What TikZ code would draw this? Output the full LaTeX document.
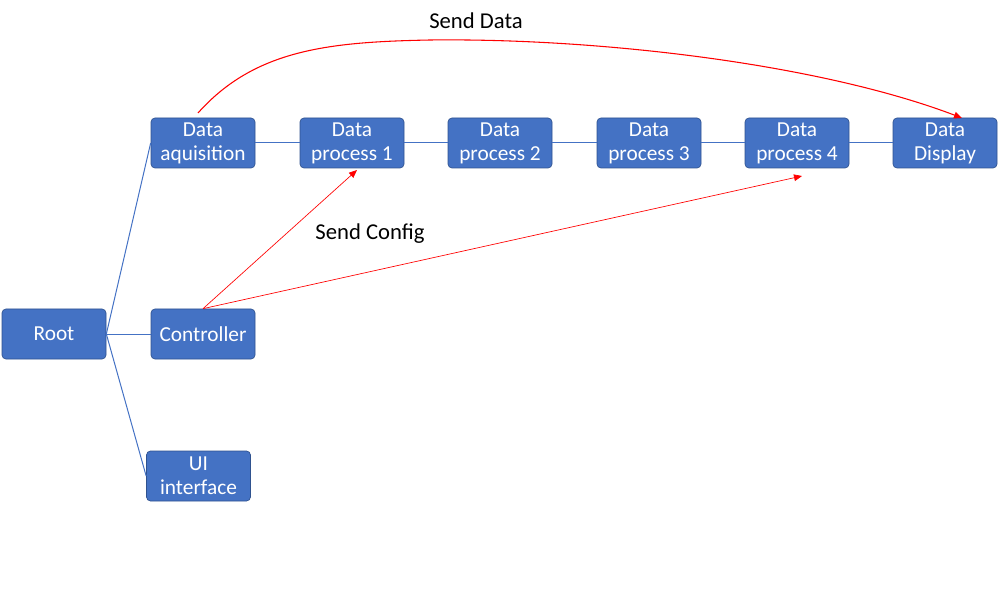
\documentclass[tikz,border=0pt]{standalone}
\usepackage{fontspec}
\setmainfont{Carlito}
\usetikzlibrary{arrows.meta}
\definecolor{boxblue}{HTML}{4472C4}
\definecolor{boxedge}{HTML}{2F528F}
\begin{document}
\begin{tikzpicture}[x=0.75pt,y=0.75pt,
  blockbox/.style={draw=boxedge, line width=0.5pt, fill=boxblue, rounded corners=3pt,
    minimum width=78pt, minimum height=37.5pt, inner sep=1pt, align=center,
    text=white, font=\fontsize{16}{18}\selectfont},
  treeline/.style={draw=boxblue, line width=0.75pt},
  sendline/.style={draw=red, line width=0.5pt, -{Triangle[length=6pt,width=5pt]}},
  notetext/.style={font=\fontsize{17}{20}\selectfont, text=black}]
\useasboundingbox (0,0) rectangle (999,604);

% tree on the left
\node[blockbox] (root) at (54,270) {Root};
\node[blockbox] (ctrl) at (203,270) {Controller};
\node[blockbox] (ui) at (198.5,128) {UI\\interface};

% processing chain
\node[blockbox] (acq) at (203,461) {Data\\aquisition};
\node[blockbox] (proc1) at (352,461) {Data\\process 1};
\node[blockbox] (proc2) at (500,461) {Data\\process 2};
\node[blockbox] (proc3) at (649,461) {Data\\process 3};
\node[blockbox] (proc4) at (797,461) {Data\\process 4};
\node[blockbox] (disp) at (945,461) {Data\\Display};

\draw[treeline] (root.east) -- (acq.west);
\draw[treeline] (root.east) -- (ctrl.west);
\draw[treeline] (root.east) -- (ui.west);

\draw[treeline] (acq.east) -- (proc1.west);
\draw[treeline] (proc1.east) -- (proc2.west);
\draw[treeline] (proc2.east) -- (proc3.west);
\draw[treeline] (proc3.east) -- (proc4.west);
\draw[treeline] (proc4.east) -- (disp.west);

% data and config messages
\coordinate (datastart) at (198,491);
\coordinate (dataend) at (962,486);
\coordinate (cfgend1) at (357,434);
\coordinate (cfgend2) at (802,428);
\draw[sendline, line width=0.8pt] (datastart) .. controls (255,555) and (330,562) .. (430,564)
  .. controls (600,566) and (820,540) .. (dataend);
\draw[sendline] (ctrl.north) -- (cfgend1);
\draw[sendline] (ctrl.north) -- (cfgend2);

\node[notetext] (datalabel) at (476,583) {Send Data};
\node[notetext] (cfglabel) at (370,370) {Send Config};
\end{tikzpicture}
\end{document}
